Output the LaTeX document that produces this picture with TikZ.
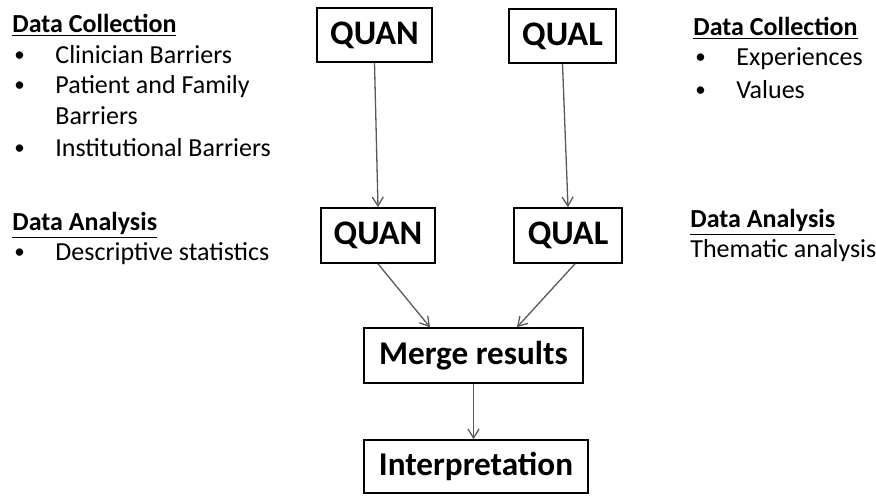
\documentclass[tikz,border=0pt]{standalone}
\usepackage{fontspec}
\setmainfont{Carlito}
\usetikzlibrary{arrows.meta,calc}
\begin{document}
\begin{tikzpicture}[x=0.5pt, y=-0.5pt,
		box/.style={shape=rectangle, draw=black, line width=0.8pt, font=\bfseries\fontsize{16.6}{18}\selectfont, inner sep=0pt},
		method/.style={box, font=\bfseries\fontsize{17.2}{19}\selectfont},
		flow/.style={-{Straight Barb[length=4.5pt, width=5.5pt]}, draw=black!65, line width=0.65pt},
		heading/.style={anchor=base west, inner sep=0pt, font=\bfseries\fontsize{13}{15}\selectfont},
		entry/.style={anchor=base west, inner sep=0pt, font=\fontsize{13}{15}\selectfont},
		dot/.style={anchor=base west, inner sep=0pt, font=\fontsize{10.5}{12}\selectfont}]
			\useasboundingbox (0,0) rectangle (876,495);
			%Method boxes:
			\path
				(374.5, 35) node[method, minimum width=57.5pt, minimum height=27pt] (quanTop) {QUAN}
				(562.5, 36) node[method, minimum width=53.5pt, minimum height=27pt] (qualTop) {QUAL}
				(378, 235.5) node[method, minimum width=57pt, minimum height=27.5pt] (quanMid) {QUAN}
				(568, 235.5) node[method, minimum width=54pt, minimum height=27.5pt] (qualMid) {QUAL}
				(473.5, 355.5) node[box, minimum width=109.5pt, minimum height=27.5pt] (merge) {Merge results}
				(476, 466.5) node[box, minimum width=112pt, minimum height=26.5pt] (interp) {Interpretation};
			%Left notes:
			\path
				(12, 32) node[heading] (quanColl) {\underline{Data Collection}}
				(14, 61) node[dot] (bulA) {•}
				(55, 63) node[entry] (itemA) {Clinician Barriers}
				(14, 91) node[dot] (bulB) {•}
				(55, 93) node[entry] (itemB) {Patient and Family}
				(55, 124) node[entry] (itemBb) {Barriers}
				(14, 154) node[dot] (bulC) {•}
				(55, 156) node[entry] (itemC) {Institutional Barriers}
				(12, 230) node[heading] (quanAna) {\underline{Data Analysis}}
				(14, 258) node[dot] (bulD) {•}
				(55, 260) node[entry] (itemD) {Descriptive statistics};
			%Right notes:
			\path
				(693, 35) node[heading] (qualColl) {\underline{Data Collection}}
				(695, 63) node[dot] (bulE) {•}
				(736, 65) node[entry] (itemE) {Experiences}
				(695, 96) node[dot] (bulF) {•}
				(736, 98) node[entry] (itemF) {Values}
				(690, 227) node[heading] (qualAna) {\underline{Data Analysis}}
				(690, 257) node[entry] (itemG) {Thematic analysis};
			%Flow arrows:
			\draw[flow] (quanTop.south) -- (quanMid.north);
			\draw[flow] (qualTop.south) -- (qualMid.north);
			\draw[flow] (quanMid.south) -- ($(merge.north)+(-43.5,0)$);
			\draw[flow] ($(qualMid.south)+(7,0)$) -- ($(merge.north)+(43.5,0)$);
			\draw[flow] (merge.south) -- (merge.south |- interp.north);
\end{tikzpicture}
\end{document}
